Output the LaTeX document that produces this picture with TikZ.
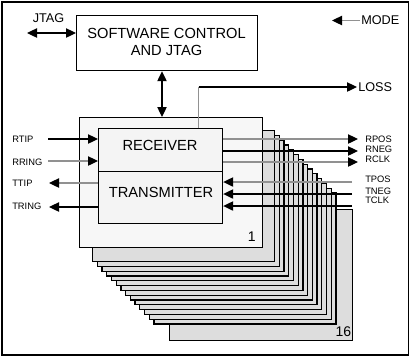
\documentclass[tikz,border=0pt]{standalone}
\usepackage{fontspec}
\setmainfont{Liberation Sans}
\usetikzlibrary{arrows.meta}
\definecolor{cardfill}{RGB}{221,221,221}
\definecolor{frontfill}{RGB}{247,247,247}
\definecolor{boxfill}{RGB}{244,244,244}
\definecolor{sig}{RGB}{145,145,145}
\begin{document}
\begin{tikzpicture}[x=0.75pt,y=-0.75pt,
  tip/.tip={Triangle[length=7.5pt,width=7pt,black]},
  box/.style={draw=black, line width=0.9pt, inner sep=0pt, anchor=north west},
  card/.style={box, fill=cardfill, minimum width=136.5pt, minimum height=98.25pt},
  big/.style={font=\fontsize{11}{12.5}\selectfont, align=center, inner sep=0pt},
  mid/.style={font=\fontsize{9.5}{11}\selectfont, inner sep=0pt},
  lab/.style={font=\fontsize{7}{8}\selectfont, inner sep=0pt},
  num/.style={font=\fontsize{10.5}{12}\selectfont, inner sep=0pt},
  wire/.style={line width=0.9pt, draw=black},
  gwire/.style={line width=0.9pt, draw=sig},
  arr/.style={-tip},
  dbl/.style={tip-tip}]
\useasboundingbox (0,0) rectangle (409,355);
\node[draw=black, line width=1.5pt, minimum width=305.25pt, minimum height=264.4pt, anchor=north west, inner sep=0pt] (frame) at (1,1) {};

% software control
\node[box, minimum width=135.75pt, minimum height=41.25pt] (sw) at (76,15) {};
\node[big] (swl) at (166.5,42) {SOFTWARE CONTROL\\AND JTAG};

% stack of cards
\node[card, minimum width=137.25pt] (c16) at (169,209) {};
\foreach \k in {15,14,...,2} {
  \node[card] (c\k) at ({92+(\k-2)*4.72},{130+(\k-2)*4.8}) {};
}
\node[box, fill=frontfill, minimum width=137.25pt, minimum height=97.5pt] (c1) at (79,117) {};

% receiver / transmitter
\node[box, fill=boxfill, minimum width=93pt, minimum height=32.25pt] (rx) at (98,128) {};
\node[box, fill=boxfill, minimum width=93pt, minimum height=39pt] (tx) at (98,171) {};
\node[big] (rxl) at (160,145.5) {RECEIVER};
\node[big] (txl) at (161,192.5) {TRANSMITTER};

\node[num, anchor=east] (n1) at (256,237) {1};
\node[num, anchor=east] (n16) at (351.5,332) {16};

% JTAG
\coordinate (jtagL) at (27,33);
\draw[wire, dbl] (jtagL) -- (jtagL -| sw.west);
\node[mid] (jtag) at (48.5,18.5) {JTAG};

% vertical double arrow
\coordinate (vx) at (162,0);
\draw[wire, dbl] (vx |- sw.south) -- (vx |- c1.north);

% MODE
\coordinate (modeR) at (360,20.5);
\coordinate (modeT) at (332,20.5);
\draw[gwire, arr] (modeR) -- (modeT);
\node[mid, anchor=west] (mode) at (361,20.5) {MODE};

% LOSS
\coordinate (lossc) at (198.5,87);
\coordinate (losst) at (357,87);
\draw[gwire] (lossc |- rx.north) -- (lossc);
\draw[wire, arr] (lossc) -- (losst);
\node[mid, anchor=west] (loss) at (358,87.5) {LOSS};

% left signals
\coordinate (rtip) at (48,139);
\coordinate (rring) at (48,161);
\coordinate (ttip) at (49,183);
\coordinate (tring) at (49,207);
\draw[wire, arr] (rtip) -- (rtip -| rx.west);
\draw[gwire, arr] (rring) -- (rring -| rx.west);
\draw[gwire, arr] (ttip -| tx.west) -- (ttip);
\draw[wire, arr] (tring -| tx.west) -- (tring);
\node[lab, anchor=west] (lrtip) at (12,139) {RTIP};
\node[lab, anchor=west] (lrring) at (12,162) {RRING};
\node[lab, anchor=west] (lttip) at (12,183) {TTIP};
\node[lab, anchor=west] (ltring) at (12,206.5) {TRING};

% right signals
\coordinate (rpos) at (358,139);
\coordinate (rneg) at (358,151);
\coordinate (rclk) at (358,162);
\coordinate (tpos) at (352,182);
\coordinate (tneg) at (352,194);
\coordinate (tclk) at (352,206);
\draw[gwire, arr] (rpos -| rx.east) -- (rpos);
\draw[wire, arr] (rneg -| rx.east) -- (rneg);
\draw[gwire, arr] (rclk -| rx.east) -- (rclk);
\draw[gwire, arr] (tpos) -- (tpos -| tx.east);
\draw[wire, arr] (tneg) -- (tneg -| tx.east);
\draw[wire, arr] (tclk) -- (tclk -| tx.east);
\node[lab, anchor=west] (lrpos) at (365,139) {RPOS};
\node[lab, anchor=west] (lrneg) at (365,149.5) {RNEG};
\node[lab, anchor=west] (lrclk) at (365,159.5) {RCLK};
\node[lab, anchor=west] (ltpos) at (365,179.5) {TPOS};
\node[lab, anchor=west] (ltneg) at (365,191.2) {TNEG};
\node[lab, anchor=west] (ltclk) at (365,200.2) {TCLK};
\end{tikzpicture}
\end{document}
